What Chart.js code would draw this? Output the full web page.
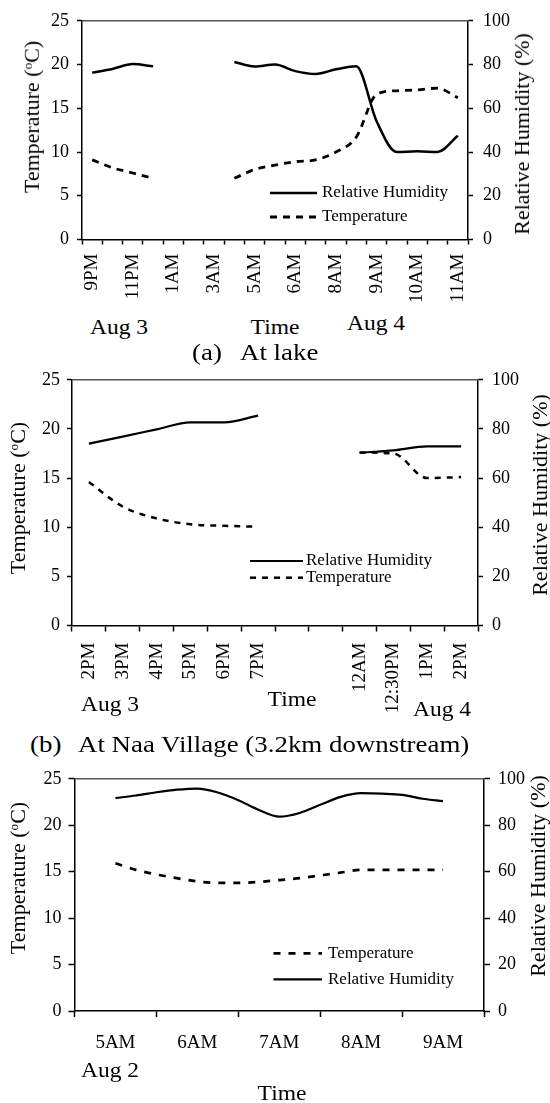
<!DOCTYPE html>
<html>
<head>
<meta charset="utf-8">
<script src="https://cdn.jsdelivr.net/npm/chart.js@4.4.1/dist/chart.umd.min.js"></script>
<style>
  body { margin: 0; background: #fff; }
  #page { position: relative; width: 550px; height: 1103px; overflow: hidden; font-family: 'Liberation Serif', 'Times New Roman', serif; color: #000; }
  .box { position: absolute; left: 0; width: 550px; }
  .txt { position: absolute; white-space: pre; line-height: 1; }
  .txt sup { font-size: 0.6em; vertical-align: 0.55em; }
</style>
</head>
<body>
<div id="page">
  <div class="box" style="top:0;height:310px"><canvas id="lake"></canvas></div>
  <div class="box" style="top:360px;height:370px"><canvas id="naa"></canvas></div>
  <div class="box" style="top:760px;height:343px"><canvas id="aug2"></canvas></div>
</div>
<script>
// (a) at the lake, Aug 3 evening to Aug 4 noon
const lakeLabels = ['9PM', '', '11PM', '', '1AM', '', '3AM', '', '5AM', '', '6AM', '', '8AM', '', '9AM', '', '10AM', '', '11AM'];
const lakeRH = [76.3, 78.0, 80.2, 79.2, null, null, null, 81.2, 79.1, 80.0, 77.0, 75.7, 77.8, 79.2, 54.1, 40.0, 40.3, 40.0, 47.4];
const lakeTemp = [9.1, 8.2, 7.6, 7.0, null, null, null, 7.0, 8.0, 8.5, 8.9, 9.1, 10.0, 11.7, 16.6, 17.0, 17.1, 17.3, 16.2];

// (b) Naa village, 3.2 km downstream
const naaLabels = ['2PM', '3PM', '4PM', '5PM', '6PM', '7PM', '', '', '12AM', '12:30PM', '1PM', '2PM'];
const naaRH = [74.0, 76.9, 79.8, 82.7, 82.7, 85.4, null, null, 70.3, 71.3, 72.9, 72.9];
const naaTemp = [14.6, 12.1, 10.9, 10.3, 10.15, 10.05, null, null, 17.6, 17.5, 15.0, 15.1];

// (c) Aug 2 morning, readings every 15 min
const aug2Hours = [5, 5.25, 5.5, 5.75, 6, 6.25, 6.5, 6.75, 7, 7.25, 7.5, 7.75, 8, 8.25, 8.5, 8.75, 9];
const aug2RH = [91.7, 92.8, 94.2, 95.3, 95.8, 94.1, 90.8, 86.6, 83.7, 85.3, 88.8, 92.2, 93.8, 93.6, 93.1, 91.4, 90.4];
const aug2Temp = [15.9, 15.2, 14.7, 14.3, 13.95, 13.8, 13.8, 13.9, 14.1, 14.3, 14.6, 14.9, 15.2, 15.2, 15.2, 15.2, 15.2];
const aug2TickHours = [5, 6, 7, 8, 9];
const aug2TickLabels = ['5AM', '6AM', '7AM', '8AM', '9AM'];
const aug2Bounds = [4.5, 5, 5.5, 6, 6.5, 7, 7.5, 8, 8.5, 9, 9.5];

const serif = "'Liberation Serif', 'Times New Roman', serif";

// legend drawn inside the plot, one row per dataset
const legendBox = {
  id: 'legendBox',
  afterDatasetsDraw(chart, args, o) {
    const ctx = chart.ctx;
    ctx.save();
    ctx.font = o.size + 'px ' + serif;
    ctx.textBaseline = 'middle';
    ctx.fillStyle = '#000';
    chart.data.datasets.forEach((ds, i) => {
      const y = o.y + i * o.rowGap;
      ctx.strokeStyle = '#000';
      ctx.lineWidth = ds.borderWidth;
      ctx.setLineDash(ds.borderDash || []);
      ctx.beginPath();
      ctx.moveTo(o.x, y);
      ctx.lineTo(o.x + o.lineLen, y);
      ctx.stroke();
      ctx.setLineDash([]);
      ctx.fillText(ds.label, o.x + o.lineLen + o.textGap, y);
    });
    ctx.restore();
  }
};

// closes the plot box along the top edge
const frameTop = {
  id: 'frameTop',
  afterDraw(chart) {
    const { ctx, chartArea: a } = chart;
    ctx.save();
    ctx.strokeStyle = '#555';
    ctx.lineWidth = 1.5;
    ctx.beginPath();
    ctx.moveTo(a.left, a.top);
    ctx.lineTo(a.right, a.top);
    ctx.stroke();
    ctx.restore();
  }
};

function series(label, data, axis, dash, width) {
  return {
    label, data, yAxisID: axis,
    borderColor: '#000', borderWidth: width, borderDash: dash,
    pointRadius: 0, fill: false, spanGaps: false,
    cubicInterpolationMode: 'monotone'
  };
}

function yAxis(side, max, step, width, tickLen, pad) {
  return {
    type: 'linear', position: side, min: 0, max,
    ticks: { stepSize: step, color: '#000', padding: pad, font: { family: serif, size: 18 } },
    grid: { drawOnChartArea: false, tickLength: tickLen, tickColor: '#000', tickWidth: 1.5 },
    border: { color: '#000', width: 1.5 },
    afterFit: s => { s.width = width; }
  };
}

function catAxis(height, tickLen, pad) {
  return {
    type: 'category', offset: true,
    ticks: { autoSkip: false, minRotation: 90, maxRotation: 90, color: '#000', padding: pad, font: { family: serif, size: 19 } },
    grid: { offset: true, drawOnChartArea: false, tickLength: tickLen, tickColor: '#000', tickWidth: 1.5 },
    border: { color: '#000', width: 1.5 },
    afterFit: s => { s.height = height; }
  };
}

function panel(id, p) {
  return new Chart(document.getElementById(id), {
    type: 'line',
    data: { labels: p.labels, datasets: p.datasets },
    options: {
      responsive: true,
      maintainAspectRatio: false,
      animation: false,
      layout: { padding: { top: p.top, left: 0, right: 0, bottom: 0 } },
      plugins: { legend: { display: false }, tooltip: { enabled: false }, legendBox: p.legend },
      scales: { x: p.x, yT: p.yT, yRH: p.yRH }
    },
    plugins: [legendBox, frameTop]
  });
}

panel('lake', {
  labels: lakeLabels,
  top: 15,
  datasets: [
    series('Relative Humidity', lakeRH, 'yRH', [], 2.5),
    series('Temperature', lakeTemp, 'yT', [7, 6], 2.8)
  ],
  x: catAxis(70.5, 5, 9),
  yT: yAxis('left', 25, 5, 82, 5, 8),
  yRH: yAxis('right', 100, 10, 82, 5, 10),
  legend: { x: 270, y: 193, rowGap: 24, lineLen: 47, textGap: 5, size: 17 }
});

panel('naa', {
  labels: naaLabels,
  top: 11,
  datasets: [
    series('Relative Humidity', naaRH, 'yRH', [], 2.2),
    series('Temperature', naaTemp, 'yT', [6, 6], 2.5)
  ],
  x: catAxis(104.5, 6, 11),
  yT: yAxis('left', 25, 5, 72, 5, 7),
  yRH: yAxis('right', 100, 20, 72, 5, 9),
  legend: { x: 250, y: 201, rowGap: 16.7, lineLen: 53, textGap: 3, size: 17 }
});

panel('aug2', {
  top: 13.3,
  datasets: [
    series('Temperature', aug2Hours.map((h, i) => ({ x: h, y: aug2Temp[i] })), 'yT', [7, 8], 2.7),
    series('Relative Humidity', aug2Hours.map((h, i) => ({ x: h, y: aug2RH[i] })), 'yRH', [], 2.2)
  ],
  x: {
    type: 'linear', min: 4.5, max: 9.5,
    afterBuildTicks: s => { s.ticks = aug2Bounds.map(v => ({ value: v })); },
    ticks: {
      autoSkip: false, maxRotation: 0, color: '#000', padding: 15,
      font: { family: serif, size: 19 },
      callback: v => { const k = aug2TickHours.indexOf(v); return k < 0 ? '' : aug2TickLabels[k]; }
    },
    grid: {
      drawOnChartArea: false, tickLength: 6, tickWidth: 1.5,
      tickColor: c => (c.tick && aug2TickHours.includes(c.tick.value)) ? 'rgba(0,0,0,0)' : '#000'
    },
    border: { color: '#000', width: 1.5 },
    afterFit: s => { s.height = 92; }
  },
  yT: yAxis('left', 25, 5, 74.5, 6, 7),
  yRH: yAxis('right', 100, 20, 66, 6, 8),
  legend: { x: 273.5, y: 193.3, rowGap: 26, lineLen: 48.5, textGap: 6, size: 17 }
});

// titles, dates and captions as page text
const page = document.getElementById('page');
function text(html, x, base, size, anchor) {
  const d = document.createElement('div');
  d.className = 'txt';
  d.innerHTML = html;
  d.style.fontSize = size + 'px';
  d.style.left = x + 'px';
  d.style.top = (base - 0.8375 * size) + 'px';
  if (anchor === 'left') {
    d.style.transformOrigin = '0 0';
    d.style.transform = 'scaleX(1.12)';
  } else {
    d.style.transform = 'translateX(-50%) scaleX(1.12)';
  }
  page.appendChild(d);
}
function vtitle(html, cx, cy, size) {
  const d = document.createElement('div');
  d.className = 'txt';
  d.innerHTML = html;
  d.style.fontSize = size + 'px';
  d.style.left = cx + 'px';
  d.style.top = cy + 'px';
  d.style.transform = 'translate(-50%, -50%) rotate(-90deg)';
  page.appendChild(d);
}

const tTitle = 'Temperature (<sup>o</sup>C)';
const rhTitle = 'Relative Humidity (%)';

vtitle(tTitle, 32, 117, 22);
vtitle(rhTitle, 522, 134, 22);
text('Aug 3', 119, 334.5, 21);
text('Time', 275, 335, 21);
text('Aug 4', 376, 330.5, 21);
text('(a)', 191.7, 360, 24, 'left');
text('At lake', 240, 360, 24, 'left');

vtitle(tTitle, 18, 498, 22);
vtitle(rhTitle, 540, 495, 22);
text('Aug 3', 110, 712, 21);
text('Time', 292, 707, 21);
text('Aug 4', 442, 717, 21);
text('(b)', 30, 752, 24, 'left');
text('At Naa Village (3.2km downstream)', 78, 752, 24, 'left');

vtitle(tTitle, 18, 878, 22);
vtitle(rhTitle, 538, 876, 22);
text('Aug 2', 110, 1077.5, 21);
text('Time', 282, 1101, 21);
</script>
</body>
</html>
